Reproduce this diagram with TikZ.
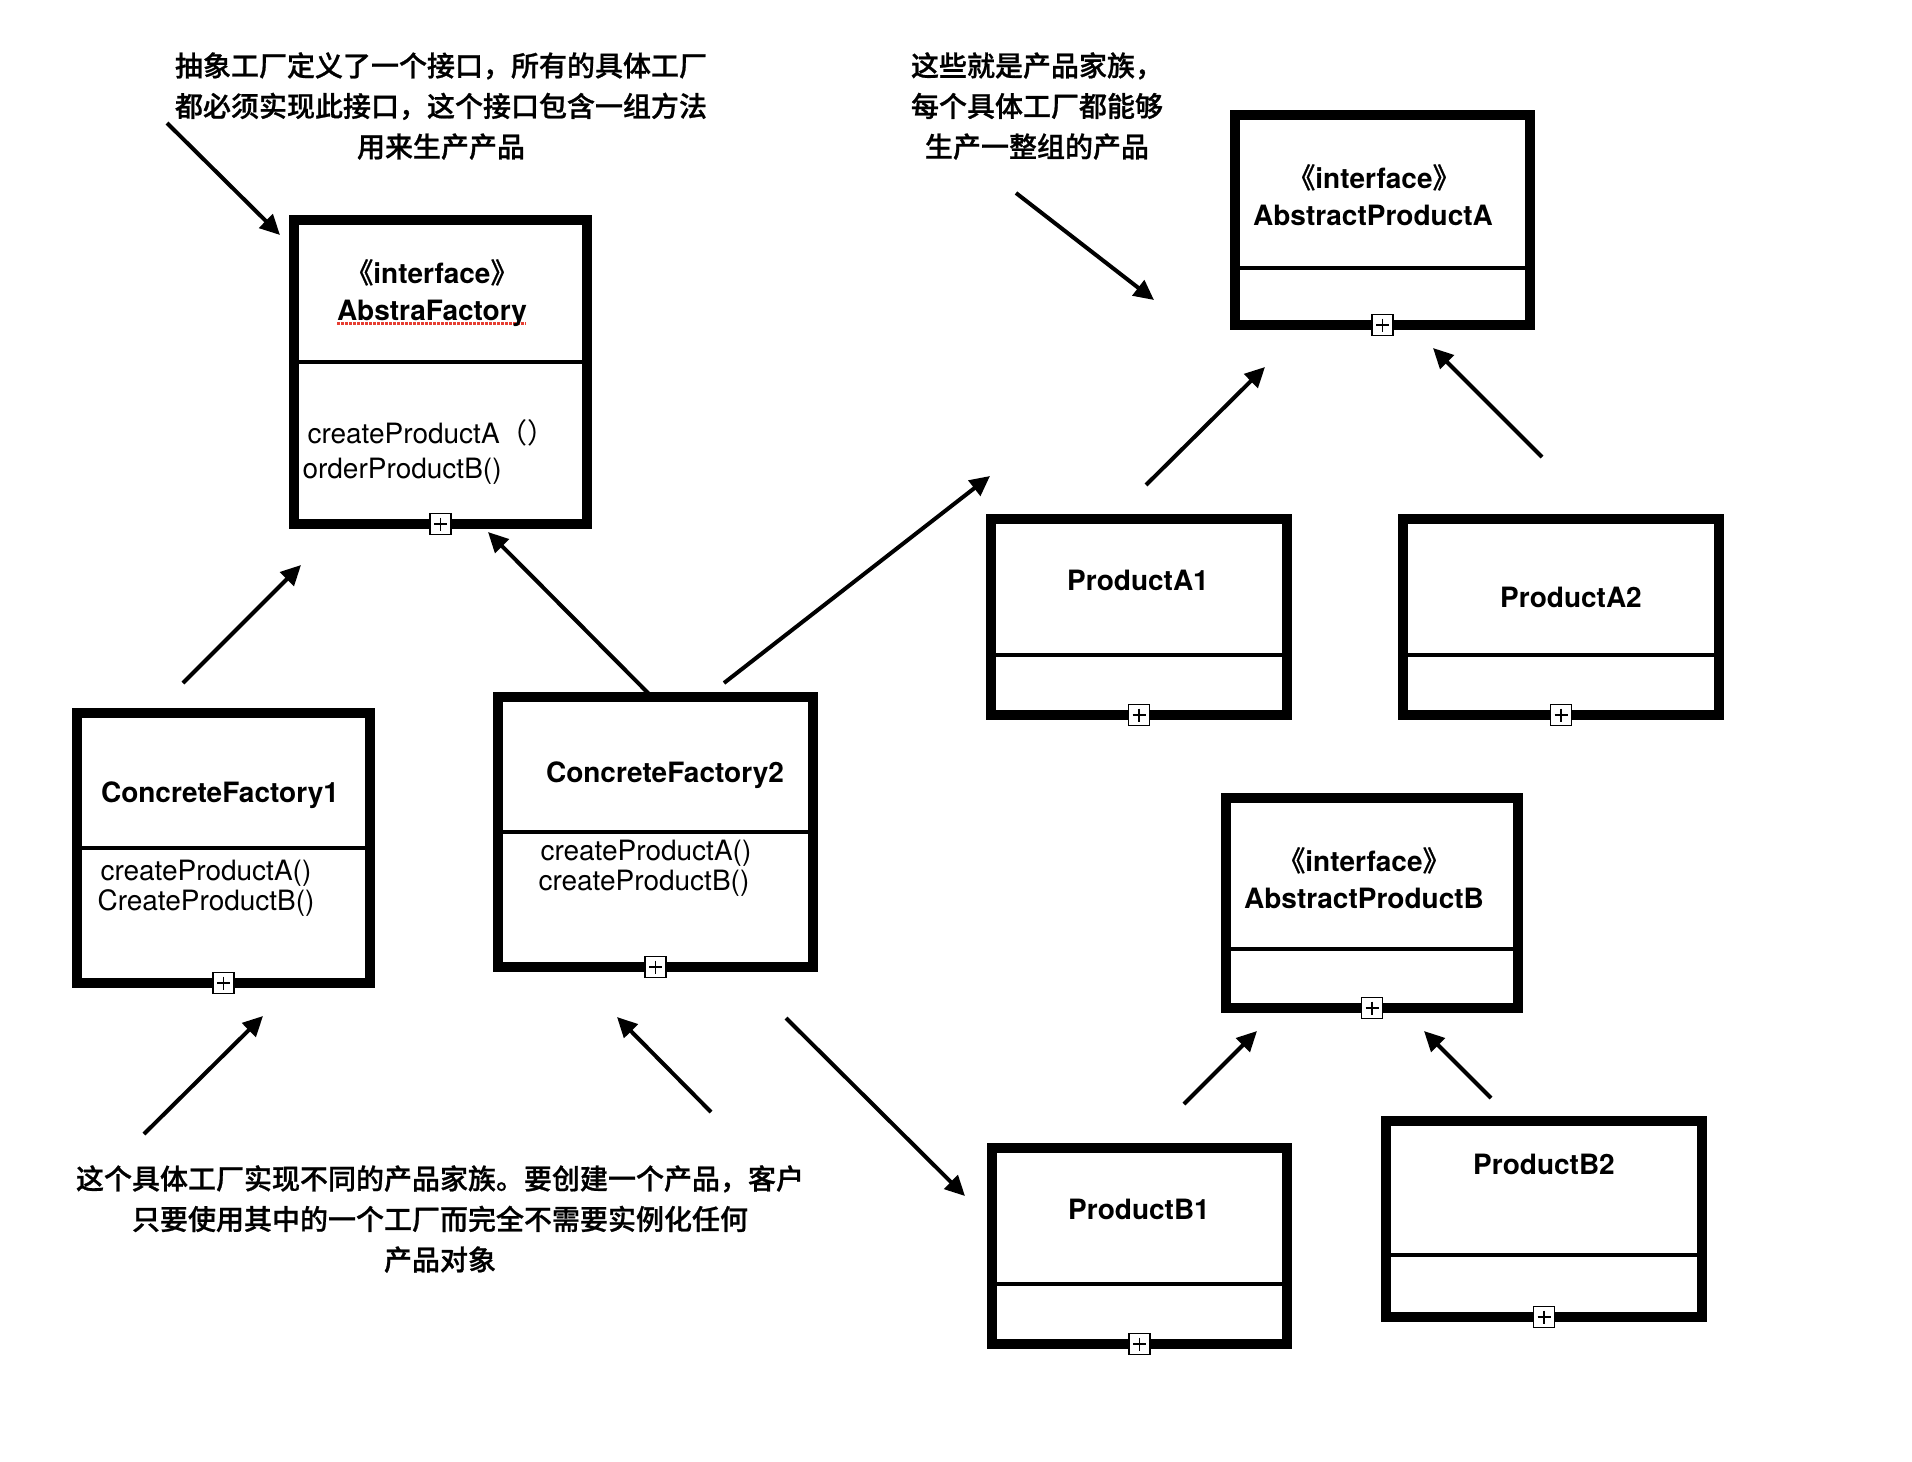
\documentclass[tikz,border=0pt]{standalone}
\usepackage{fontspec}
\setmainfont{TeX Gyre Heros}
\newfontfamily\cjk{Noto Sans CJK SC}[BoldFont={Noto Sans CJK SC Medium}, BoldFeatures={FakeBold=0.8}]
\usetikzlibrary{arrows.meta}
\definecolor{spellred}{RGB}{230,62,50}

\tikzset{
  classbox/.style={draw, rectangle, line width=10pt, inner sep=0pt, outer sep=0pt},
  divider/.style={line width=4pt},
  plusbox/.style={draw, fill=white, line width=1.8pt, minimum size=21pt, inner sep=0pt,
    path picture={\draw[line width=1.6pt]
      ([xshift=4pt]path picture bounding box.west) -- ([xshift=-4pt]path picture bounding box.east)
      ([yshift=-4pt]path picture bounding box.north) -- ([yshift=4pt]path picture bounding box.south);}},
  title/.style={anchor=base, font=\bfseries\fontsize{28}{34}\selectfont},
  method/.style={anchor=base west, font=\fontsize{28}{34}\selectfont},
  note/.style={align=center, font=\cjk\bfseries\fontsize{28}{40.5}\selectfont},
  link/.style={-{Triangle[length=20pt,width=19pt]}, line width=4pt},
}

\begin{document}
\begin{tikzpicture}[x=1pt, y=-1pt]
  \fill[white] (0,0) rectangle (1912,1462);
  \useasboundingbox (0,0) rectangle (1912,1462);

  \node[classbox, minimum width=293pt, minimum height=304pt] (af) at (440.5,372) {};
  \node[classbox, minimum width=293pt, minimum height=270pt] (cf1) at (223.5,848) {};
  \node[classbox, minimum width=315pt, minimum height=270pt] (cf2) at (655.5,832) {};
  \node[classbox, minimum width=295pt, minimum height=210pt] (apa) at (1382.5,220) {};
  \node[classbox, minimum width=296pt, minimum height=196pt] (pa1) at (1139,617) {};
  \node[classbox, minimum width=316pt, minimum height=196pt] (pa2) at (1561,617) {};
  \node[classbox, minimum width=292pt, minimum height=210pt] (apb) at (1372,903) {};
  \node[classbox, minimum width=295pt, minimum height=196pt] (pb1) at (1139.5,1246) {};
  \node[classbox, minimum width=316pt, minimum height=196pt] (pb2) at (1544,1219) {};

  \draw[divider] ([yshift=-142pt]af.north west) -- ([yshift=-142pt]af.north east);
  \draw[divider] ([yshift=-135pt]cf1.north west) -- ([yshift=-135pt]cf1.north east);
  \draw[divider] ([yshift=-135pt]cf2.north west) -- ([yshift=-135pt]cf2.north east);
  \draw[divider] ([yshift=-153pt]apa.north west) -- ([yshift=-153pt]apa.north east);
  \draw[divider] ([yshift=-136pt]pa1.north west) -- ([yshift=-136pt]pa1.north east);
  \draw[divider] ([yshift=-136pt]pa2.north west) -- ([yshift=-136pt]pa2.north east);
  \draw[divider] ([yshift=-151pt]apb.north west) -- ([yshift=-151pt]apb.north east);
  \draw[divider] ([yshift=-136pt]pb1.north west) -- ([yshift=-136pt]pb1.north east);
  \draw[divider] ([yshift=-134pt]pb2.north west) -- ([yshift=-134pt]pb2.north east);

  \foreach \b in {af,cf1,cf2,apa,pa1,pa2,apb,pb1,pb2}
    \node[plusbox] (\b plus) at (\b.south) {};

  \draw[spellred, line width=3pt, dash pattern=on 2.5pt off 1.5pt] (337,323) -- (526,323);

  \node[title] (afst) at (432,283) {{\cjk 《}interface{\cjk 》}};
  \node[title] (afname) at (432,320) {AbstraFactory};
  \node[method] (afm1) at (304,443) {createProductA{\cjk （）}};
  \node[method] (afm2) at (299,478) {orderProductB()};

  \node[title] (cf1name) at (220,802) {ConcreteFactory1};
  \node[method] (cf1m1) at (97,880) {createProductA()};
  \node[method] (cf1m2) at (94,910) {CreateProductB()};

  \node[title] (cf2name) at (665,782) {ConcreteFactory2};
  \node[method] (cf2m1) at (537,860) {createProductA()};
  \node[method] (cf2m2) at (535,890) {createProductB()};

  \node[title] (apast) at (1374,188) {{\cjk 《}interface{\cjk 》}};
  \node[title] (apaname) at (1373,225) {AbstractProductA};
  \node[title] (pa1name) at (1138,590) {ProductA1};
  \node[title] (pa2name) at (1571,607) {ProductA2};

  \node[title] (apbst) at (1364,871) {{\cjk 《}interface{\cjk 》}};
  \node[title] (apbname) at (1364,908) {AbstractProductB};
  \node[title] (pb1name) at (1139,1219) {ProductB1};
  \node[title] (pb2name) at (1544,1174) {ProductB2};

  \node[note] (note1) at (441,106) {抽象工厂定义了一个接口，所有的具体工厂\\都必须实现此接口，这个接口包含一组方法\\用来生产产品};
  \node[note] (note2) at (1037,106) {这些就是产品家族，\\每个具体工厂都能够\\生产一整组的产品};
  \node[note] (note3) at (440,1219) {这个具体工厂实现不同的产品家族。要创建一个产品，客户\\只要使用其中的一个工厂而完全不需要实例化任何\\产品对象};

  \coordinate (n1a) at (167,123);   \coordinate (n1b) at (280,235);
  \coordinate (c1a) at (183,683);   \coordinate (c1b) at (301,565);
  \coordinate (c2a) at (655,700);   \coordinate (c2b) at (488,532);
  \coordinate (c2c) at (724,683);   \coordinate (c2d) at (990,476);
  \coordinate (n2a) at (1016,193);  \coordinate (n2b) at (1154,300);
  \coordinate (a1a) at (1146,485);  \coordinate (a1b) at (1265,367);
  \coordinate (a2a) at (1542,457);  \coordinate (a2b) at (1433,348);
  \coordinate (n3a) at (144,1134);  \coordinate (n3b) at (263,1016);
  \coordinate (n3c) at (711,1112);  \coordinate (n3d) at (617,1017);
  \coordinate (c2e) at (786,1018);  \coordinate (c2f) at (965,1196);
  \coordinate (b1a) at (1184,1104); \coordinate (b1b) at (1257,1031);
  \coordinate (b2a) at (1491,1098); \coordinate (b2b) at (1424,1031);

  \begin{scope}[link]
    \draw (n1a) -- (n1b);
    \draw (c1a) -- (c1b);
    \draw (c2a) -- (c2b);
    \draw (c2c) -- (c2d);
    \draw (n2a) -- (n2b);
    \draw (a1a) -- (a1b);
    \draw (a2a) -- (a2b);
    \draw (n3a) -- (n3b);
    \draw (n3c) -- (n3d);
    \draw (c2e) -- (c2f);
    \draw (b1a) -- (b1b);
    \draw (b2a) -- (b2b);
  \end{scope}
\end{tikzpicture}
\end{document}
